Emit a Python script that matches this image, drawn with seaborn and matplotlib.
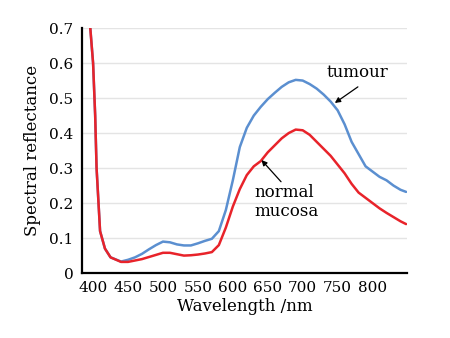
import matplotlib
matplotlib.use("Agg")
import matplotlib.pyplot as plt
import seaborn as sns
import pandas as pd

# Reflectance spectra (wavelength in nm)
wavelength = [396, 400, 403, 405, 410, 417, 425, 440, 450, 460, 470, 480, 490,
              500, 510, 520, 530, 540, 550, 560, 570, 580, 590, 600, 610, 620,
              630, 640, 650, 660, 670, 680, 690, 700, 710, 720, 730, 740, 750,
              760, 770, 780, 790, 800, 810, 820, 830, 840, 848]

normal_mucosa = [0.70, 0.60, 0.45, 0.30, 0.12, 0.07, 0.045, 0.032, 0.032, 0.036,
                 0.040, 0.046, 0.052, 0.058, 0.058, 0.054, 0.050, 0.051, 0.053,
                 0.056, 0.060, 0.080, 0.130, 0.190, 0.240, 0.280, 0.305, 0.320,
                 0.345, 0.365, 0.385, 0.400, 0.410, 0.408, 0.395, 0.375, 0.355,
                 0.335, 0.310, 0.285, 0.255, 0.230, 0.215, 0.200, 0.185, 0.172,
                 0.160, 0.148, 0.140]

tumour = [0.70, 0.60, 0.45, 0.30, 0.12, 0.07, 0.045, 0.033, 0.038, 0.045,
          0.055, 0.068, 0.080, 0.090, 0.088, 0.082, 0.079, 0.079, 0.085,
          0.092, 0.098, 0.120, 0.180, 0.265, 0.360, 0.415, 0.450, 0.475,
          0.497, 0.515, 0.532, 0.545, 0.552, 0.550, 0.540, 0.527, 0.510,
          0.490, 0.465, 0.425, 0.375, 0.340, 0.305, 0.290, 0.275, 0.265,
          0.250, 0.238, 0.232]

x_ticks = [400, 450, 500, 550, 600, 650, 700, 750, 800]
y_ticks = [0, 0.1, 0.2, 0.3, 0.4, 0.5, 0.6, 0.7]
y_ticklabels = ["0", "0.1", "0.2", "0.3", "0.4", "0.5", "0.6", "0.7"]

df = pd.DataFrame({
    "wavelength": wavelength * 2,
    "reflectance": tumour + normal_mucosa,
    "tissue": ["tumour"] * len(wavelength) + ["normal mucosa"] * len(wavelength),
})

sns.set_theme(style="white")
plt.rcParams["font.family"] = ["DejaVu Serif"]
plt.rcParams["text.color"] = "black"
plt.rcParams["axes.labelcolor"] = "black"

fig = plt.figure(figsize=(4.5, 3.38), dpi=100)
ax = fig.add_axes([0.182, 0.192, 0.722, 0.725])

for y in y_ticks[1:]:
    ax.axhline(y, color="#e4e4e4", lw=1.0, zorder=0)

sns.lineplot(data=df, x="wavelength", y="reflectance", hue="tissue",
             palette={"tumour": "#5b8fd0", "normal mucosa": "#e8232a"},
             hue_order=["tumour", "normal mucosa"],
             lw=1.8, legend=False, ax=ax, sort=False)

ax.set_xlim(384, 849)
ax.set_ylim(0, 0.7)
ax.set_xticks(x_ticks)
ax.set_yticks(y_ticks)
ax.set_yticklabels(y_ticklabels)
ax.tick_params(direction="in", length=5, width=1.4, labelsize=11,
               colors="black")
ax.tick_params(axis="x", pad=6)
ax.tick_params(axis="y", pad=6)
for side in ["top", "right"]:
    ax.spines[side].set_visible(False)
for side in ["left", "bottom"]:
    ax.spines[side].set_color("black")
    ax.spines[side].set_linewidth(1.6)

ax.set_xlabel("Wavelength /nm", fontsize=12, labelpad=2)
ax.set_ylabel("Spectral reflectance", fontsize=12, labelpad=6)

arrow = dict(arrowstyle="-|>", color="black", lw=0.9, mutation_scale=8,
             shrinkA=0, shrinkB=0)
ax.annotate("", xy=(746, 0.486), xytext=(779, 0.532), arrowprops=arrow)
ax.text(779, 0.572, "tumour", ha="center", va="center", fontsize=12)
ax.annotate("", xy=(641, 0.323), xytext=(669, 0.261), arrowprops=arrow)
ax.text(631, 0.203, "normal\nmucosa", ha="left", va="center", fontsize=12,
        linespacing=1.2)

fig.savefig("out.png", dpi=100, facecolor="white")
